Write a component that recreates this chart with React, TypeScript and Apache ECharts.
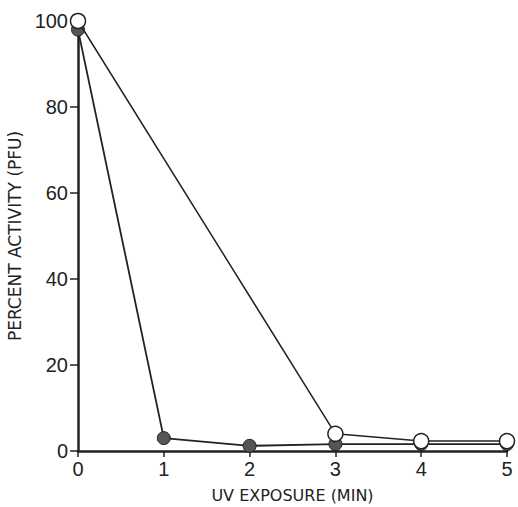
import React, { useEffect, useRef } from "react";
import * as echarts from "echarts";

const minutes = [0, 1, 2, 3, 4, 5];
const filledSeries = [98, 3, 1.2, 1.6, 1.6, 1.6];
const openMinutes = [0, 3, 4, 5];
const openSeries = [100, 4, 2.3, 2.3];
const xTicks = [0, 1, 2, 3, 4, 5];
const yTicks = [0, 20, 40, 60, 80, 100];

export default function App() {
  const ref = useRef<HTMLDivElement>(null);
  useEffect(() => {
    const chart = echarts.init(ref.current!, null, { renderer: "svg" });
    const font = "Liberation Sans";
    const nameFont = "DejaVu Sans";
    chart.setOption({
      animation: false,
      backgroundColor: "#ffffff",
      grid: { left: 78, right: 11, top: 21, bottom: 56, outerBoundsMode: "none", containLabel: false },
      xAxis: {
        type: "value",
        min: 0,
        max: 5,
        interval: 1,
        name: "UV EXPOSURE (MIN)",
        nameLocation: "middle",
        nameGap: 36,
        nameTextStyle: { fontFamily: nameFont, fontSize: 16, color: "#222" },
        axisLine: { lineStyle: { color: "#222", width: 2.5 } },
        axisTick: { show: true, length: 6, lineStyle: { color: "#222", width: 1.5 } },
        axisLabel: { fontFamily: font, fontSize: 20, color: "#222", margin: 8, formatter: (v: number) => (xTicks.includes(v) ? String(v) : "") },
        splitLine: { show: false },
      },
      yAxis: {
        type: "value",
        min: 0,
        max: 100,
        interval: 20,
        name: "PERCENT ACTIVITY (PFU)",
        nameLocation: "middle",
        nameGap: 54,
        nameTextStyle: { fontFamily: nameFont, fontSize: 17, color: "#222" },
        axisLine: { show: true, lineStyle: { color: "#222", width: 2.5 } },
        axisTick: { show: true, length: 8, lineStyle: { color: "#222", width: 1.5 } },
        axisLabel: { fontFamily: font, fontSize: 20, color: "#222", margin: 10, formatter: (v: number) => (yTicks.includes(v) ? String(v) : "") },
        splitLine: { show: false },
      },
      series: [
        {
          type: "line",
          data: minutes.map((m, i) => [m, filledSeries[i]]),
          symbol: "circle",
          symbolSize: 13,
          itemStyle: { color: "#555", borderColor: "#222", borderWidth: 1 },
          lineStyle: { color: "#222", width: 1.8 },
          z: 2,
        },
        {
          type: "line",
          data: openMinutes.map((m, i) => [m, openSeries[i]]),
          symbol: "circle",
          symbolSize: 15,
          itemStyle: { color: "#fff", borderColor: "#222", borderWidth: 1.5 },
          lineStyle: { color: "#222", width: 1.5 },
          z: 3,
        },
      ],
    });
    return () => chart.dispose();
  }, []);
  return <div ref={ref} style={{ width: 518, height: 507, position: "absolute", left: 0, top: 0 }} />;
}
